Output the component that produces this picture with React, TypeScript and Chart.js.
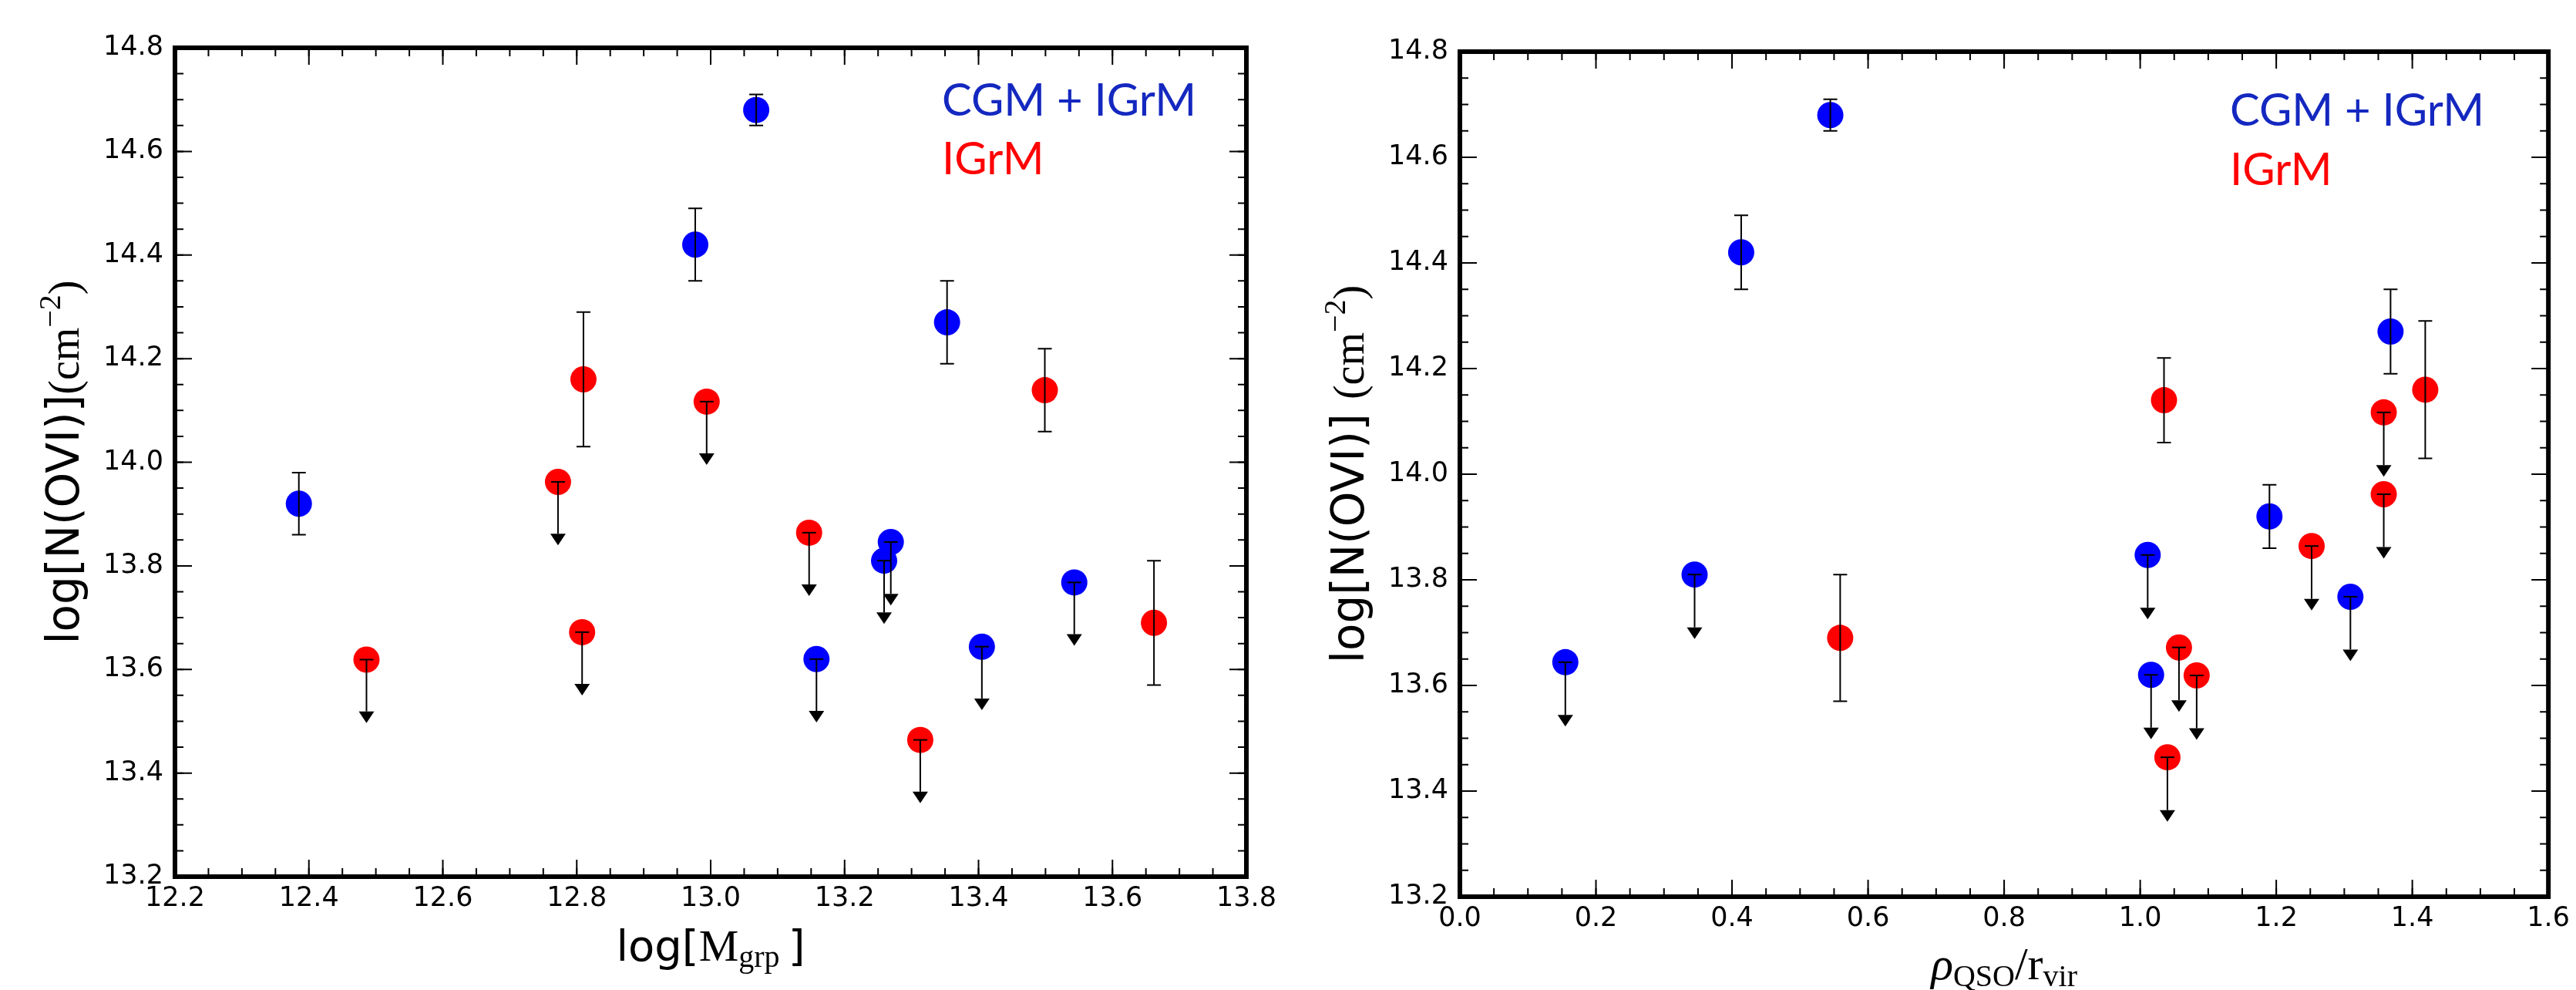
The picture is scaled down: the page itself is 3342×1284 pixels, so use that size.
import React, { useEffect, useRef } from "react";
import { Chart, registerables } from "chart.js";

Chart.register(...registerables);

const CANVAS_W = 1671;
const CANVAS_H = 1284;

// ---------- Left panel: log[N(OVI)] vs log[M_grp] ----------
const massBlueX = [12.385, 12.977, 13.068, 13.353, 13.158, 13.259, 13.269, 13.405, 13.543];
const massBlueY = [13.92, 14.42, 14.68, 14.27, 13.62, 13.81, 13.846, 13.644, 13.768];
const massBlueErrHi = [0.06, 0.07, 0.03, 0.08, 0, 0, 0, 0, 0];
const massBlueErrLo = [0.06, 0.07, 0.03, 0.08, 0.1, 0.1, 0.1, 0.1, 0.1];
const massBlueUpLim = [false, false, false, false, true, true, true, true, true];

const massRedX = [12.486, 12.772, 12.808, 12.81, 12.994, 13.147, 13.313, 13.499, 13.662];
const massRedY = [13.619, 13.962, 13.672, 14.16, 14.117, 13.864, 13.464, 14.139, 13.69];
const massRedErrHi = [0, 0, 0, 0.13, 0, 0, 0, 0.08, 0.12];
const massRedErrLo = [0.1, 0.1, 0.1, 0.13, 0.1, 0.1, 0.1, 0.08, 0.12];
const massRedUpLim = [true, true, true, false, true, true, true, false, false];

// ---------- Right panel: log[N(OVI)] vs rho_QSO / r_vir ----------
const rhoBlueX = [0.5445, 0.4135, 1.368, 1.19, 1.011, 0.345, 1.309, 0.155, 1.016];
const rhoBlueY = [14.68, 14.42, 14.27, 13.92, 13.847, 13.81, 13.768, 13.644, 13.62];
const rhoBlueErrHi = [0.03, 0.07, 0.08, 0.06, 0, 0, 0, 0, 0];
const rhoBlueErrLo = [0.03, 0.07, 0.08, 0.06, 0.1, 0.1, 0.1, 0.1, 0.1];
const rhoBlueUpLim = [false, false, false, false, true, true, true, true, true];

const rhoRedX = [1.035, 1.419, 1.358, 1.358, 1.252, 0.559, 1.057, 1.083, 1.04];
const rhoRedY = [14.14, 14.16, 14.117, 13.962, 13.864, 13.69, 13.672, 13.619, 13.464];
const rhoRedErrHi = [0.08, 0.13, 0, 0, 0, 0.12, 0, 0, 0];
const rhoRedErrLo = [0.08, 0.13, 0.1, 0.1, 0.1, 0.12, 0.1, 0.1, 0.1];
const rhoRedUpLim = [false, false, true, true, true, false, true, true, true];

// ---------- Axes ----------
const massXTicks = [12.2, 12.4, 12.6, 12.8, 13.0, 13.2, 13.4, 13.6, 13.8];
const rhoXTicks = [0.0, 0.2, 0.4, 0.6, 0.8, 1.0, 1.2, 1.4, 1.6];
const colYTicks = [13.2, 13.4, 13.6, 13.8, 14.0, 14.2, 14.4, 14.6, 14.8];
const minorStep = 0.05;
const seriesLabels = ["CGM + IGrM", "IGrM"];

const BLUE = "#0000ff";
const RED = "#ff0000";
const LEGEND_BLUE = "#1428c0";
const SANS = "'DejaVu Sans'";
const SERIF = "'Liberation Serif'";

type Part = { t: string; font: string; dy?: number };

function drawRich(ctx: CanvasRenderingContext2D, parts: Part[], cx: number, baseY: number) {
  let total = 0;
  const widths = parts.map((p) => {
    ctx.font = p.font;
    const w = ctx.measureText(p.t).width;
    total += w;
    return w;
  });
  let x = cx - total / 2;
  ctx.textAlign = "left";
  ctx.textBaseline = "alphabetic";
  parts.forEach((p, i) => {
    ctx.font = p.font;
    ctx.fillText(p.t, x, baseY + (p.dy || 0));
    x += widths[i];
  });
}

type PanelCfg = {
  blue: { x: number[]; y: number[]; hi: number[]; lo: number[]; lim: boolean[] };
  red: { x: number[]; y: number[]; hi: number[]; lo: number[]; lim: boolean[] };
  xTicks: number[];
  area: { left: number; top: number; right: number; bottom: number };
  legend: { dx: number; dy1: number; dy2: number };
  yTitle: Part[];
  yTitleX: number;
  xTitle: Part[];
  xTitleY: number;
};

const yTitleLeft: Part[] = [
  { t: "log[N(OVI)]", font: `58px ${SANS}` },
  { t: "(cm", font: `56px ${SERIF}` },
  { t: "\u22122", font: `40px ${SERIF}`, dy: -24 },
  { t: ")", font: `56px ${SERIF}` },
];
const yTitleRight: Part[] = [
  { t: "log[N(OVI)] ", font: `58px ${SANS}` },
  { t: "(cm", font: `56px ${SERIF}` },
  { t: "\u22122", font: `40px ${SERIF}`, dy: -24 },
  { t: ")", font: `56px ${SERIF}` },
];
const xTitleLeft: Part[] = [
  { t: "log[", font: `56px ${SANS}` },
  { t: "M", font: `58px ${SERIF}` },
  { t: "grp", font: `40px ${SERIF}`, dy: 8 },
  { t: "\u2009]", font: `56px ${SANS}` },
];
const xTitleRight: Part[] = [
  { t: "\u03C1", font: `italic 60px ${SERIF}` },
  { t: "QSO", font: `40px ${SERIF}`, dy: 9 },
  { t: "/", font: `60px ${SERIF}` },
  { t: "r", font: `60px ${SERIF}` },
  { t: "vir", font: `40px ${SERIF}`, dy: 9 },
];

const leftCfg: PanelCfg = {
  blue: { x: massBlueX, y: massBlueY, hi: massBlueErrHi, lo: massBlueErrLo, lim: massBlueUpLim },
  red: { x: massRedX, y: massRedY, hi: massRedErrHi, lo: massRedErrLo, lim: massRedUpLim },
  xTicks: massXTicks,
  area: { left: 227, top: 62, right: 1617, bottom: 1137 },
  legend: { dx: 995, dy1: 88, dy2: 164 },
  yTitle: yTitleLeft,
  yTitleX: 102,
  xTitle: xTitleLeft,
  xTitleY: 1246,
};

const rightCfg: PanelCfg = {
  blue: { x: rhoBlueX, y: rhoBlueY, hi: rhoBlueErrHi, lo: rhoBlueErrLo, lim: rhoBlueUpLim },
  red: { x: rhoRedX, y: rhoRedY, hi: rhoRedErrHi, lo: rhoRedErrLo, lim: rhoRedUpLim },
  xTicks: rhoXTicks,
  area: { left: 223, top: 67, right: 1638, bottom: 1163 },
  legend: { dx: 999, dy1: 96, dy2: 173 },
  yTitle: yTitleRight,
  yTitleX: 98,
  xTitle: xTitleRight,
  xTitleY: 1270,
};

function Panel({ cfg, offsetX }: { cfg: PanelCfg; offsetX: number }) {
  const ref = useRef<HTMLCanvasElement>(null);

  useEffect(() => {
    if (!ref.current) return;
    const { area } = cfg;
    const xMin = cfg.xTicks[0];
    const xMax = cfg.xTicks[cfg.xTicks.length - 1];
    const yMin = colYTicks[0];
    const yMax = colYTicks[colYTicks.length - 1];

    const decor = {
      id: "panelDecor",
      afterDatasetsDraw(chart: any) {
        const ctx: CanvasRenderingContext2D = chart.ctx;
        const xs = chart.scales.x;
        const ys = chart.scales.y;
        const ca = chart.chartArea;
        ctx.save();

        // error bars & upper limits
        ctx.strokeStyle = "#000";
        ctx.fillStyle = "#000";
        ctx.lineWidth = 2;
        chart.data.datasets.forEach((ds: any, di: number) => {
          const meta = chart.getDatasetMeta(di);
          meta.data.forEach((el: any, i: number) => {
            const px = el.x;
            const yv = ds.data[i].y;
            const pyv = ys.getPixelForValue(yv);
            const pHi = ys.getPixelForValue(yv + ds.errHi[i]);
            const pLo = ys.getPixelForValue(yv - ds.errLo[i]);
            ctx.beginPath();
            ctx.moveTo(px, pHi);
            ctx.lineTo(px, pLo);
            ctx.stroke();
            const cap = 9;
            if (ds.upLim[i]) {
              ctx.beginPath();
              ctx.moveTo(px - cap, pyv);
              ctx.lineTo(px + cap, pyv);
              ctx.stroke();
              ctx.beginPath();
              ctx.moveTo(px - 10, pLo);
              ctx.lineTo(px + 10, pLo);
              ctx.lineTo(px, pLo + 15);
              ctx.closePath();
              ctx.fill();
            } else {
              ctx.beginPath();
              ctx.moveTo(px - cap, pHi);
              ctx.lineTo(px + cap, pHi);
              ctx.moveTo(px - cap, pLo);
              ctx.lineTo(px + cap, pLo);
              ctx.stroke();
            }
          });
        });

        // ticks (inward, all four sides)
        ctx.lineWidth = 2;
        ctx.strokeStyle = "#000";
        const drawX = (v: number, len: number) => {
          const p = xs.getPixelForValue(v);
          ctx.beginPath();
          ctx.moveTo(p, ca.bottom);
          ctx.lineTo(p, ca.bottom - len);
          ctx.moveTo(p, ca.top);
          ctx.lineTo(p, ca.top + len);
          ctx.stroke();
        };
        const drawY = (v: number, len: number) => {
          const p = ys.getPixelForValue(v);
          ctx.beginPath();
          ctx.moveTo(ca.left, p);
          ctx.lineTo(ca.left + len, p);
          ctx.moveTo(ca.right, p);
          ctx.lineTo(ca.right - len, p);
          ctx.stroke();
        };
        const nx = Math.round((xMax - xMin) / minorStep);
        for (let k = 0; k <= nx; k++) drawX(xMin + k * minorStep, 11);
        const ny = Math.round((yMax - yMin) / minorStep);
        for (let k = 0; k <= ny; k++) drawY(yMin + k * minorStep, 11);
        cfg.xTicks.forEach((v) => drawX(v, 22));
        colYTicks.forEach((v) => drawY(v, 22));

        // frame
        ctx.lineWidth = 6;
        ctx.strokeRect(ca.left, ca.top, ca.right - ca.left, ca.bottom - ca.top);

        // legend text
        ctx.textAlign = "left";
        ctx.textBaseline = "alphabetic";
        ctx.font = "58px Lato";
        ctx.fillStyle = LEGEND_BLUE;
        ctx.fillText(seriesLabels[0], ca.left + cfg.legend.dx, ca.top + cfg.legend.dy1);
        ctx.fillStyle = RED;
        ctx.fillText(seriesLabels[1], ca.left + cfg.legend.dx, ca.top + cfg.legend.dy2);

        // axis titles
        ctx.fillStyle = "#000";
        drawRich(ctx, cfg.xTitle, (ca.left + ca.right) / 2, cfg.xTitleY);
        ctx.save();
        ctx.translate(cfg.yTitleX, (ca.top + ca.bottom) / 2);
        ctx.rotate(-Math.PI / 2);
        drawRich(ctx, cfg.yTitle, 0, 0);
        ctx.restore();

        ctx.restore();
      },
    };

    const mk = (s: PanelCfg["blue"]) => s.x.map((x, i) => ({ x, y: s.y[i] }));

    const chart = new Chart(ref.current, {
      type: "scatter",
      data: {
        datasets: [
          {
            label: seriesLabels[0],
            data: mk(cfg.blue),
            backgroundColor: BLUE,
            borderColor: BLUE,
            borderWidth: 0,
            pointRadius: 17,
            pointHoverRadius: 17,
            errHi: cfg.blue.hi,
            errLo: cfg.blue.lo,
            upLim: cfg.blue.lim,
          } as any,
          {
            label: seriesLabels[1],
            data: mk(cfg.red),
            backgroundColor: RED,
            borderColor: RED,
            borderWidth: 0,
            pointRadius: 17,
            pointHoverRadius: 17,
            errHi: cfg.red.hi,
            errLo: cfg.red.lo,
            upLim: cfg.red.lim,
          } as any,
        ],
      },
      options: {
        responsive: false,
        animation: false,
        devicePixelRatio: 1,
        events: [],
        layout: {
          padding: { left: 0, top: area.top, right: CANVAS_W - area.right, bottom: 0 },
        },
        plugins: {
          legend: { display: false },
          tooltip: { enabled: false },
        },
        scales: {
          x: {
            type: "linear",
            min: xMin,
            max: xMax,
            afterBuildTicks: (s: any) => {
              s.ticks = cfg.xTicks.map((v) => ({ value: v }));
            },
            afterFit: (s: any) => {
              s.height = CANVAS_H - area.bottom;
            },
            grid: { display: false, drawTicks: false },
            border: { display: false },
            ticks: {
              color: "#000",
              padding: 8,
              autoSkip: false,
              maxRotation: 0,
              font: { family: "DejaVu Sans", size: 35 },
              callback: (v: any) => Number(v).toFixed(1),
            },
          },
          y: {
            type: "linear",
            min: yMin,
            max: yMax,
            afterBuildTicks: (s: any) => {
              s.ticks = colYTicks.map((v) => ({ value: v }));
            },
            afterFit: (s: any) => {
              s.width = area.left;
            },
            grid: { display: false, drawTicks: false },
            border: { display: false },
            ticks: {
              color: "#000",
              padding: 15,
              autoSkip: false,
              font: { family: "DejaVu Sans", size: 35 },
              callback: (v: any) => Number(v).toFixed(1),
            },
          },
        },
      } as any,
      plugins: [decor],
    });
    return () => chart.destroy();
  }, [cfg]);

  return (
    <canvas
      ref={ref}
      width={CANVAS_W}
      height={CANVAS_H}
      style={{ position: "absolute", left: offsetX, top: 0, width: CANVAS_W, height: CANVAS_H }}
    />
  );
}

export default function App() {
  return (
    <div style={{ position: "absolute", left: 0, top: 0, width: 3342, height: 1284, background: "#fff", overflow: "hidden" }}>
      <Panel cfg={leftCfg} offsetX={0} />
      <Panel cfg={rightCfg} offsetX={CANVAS_W} />
    </div>
  );
}
